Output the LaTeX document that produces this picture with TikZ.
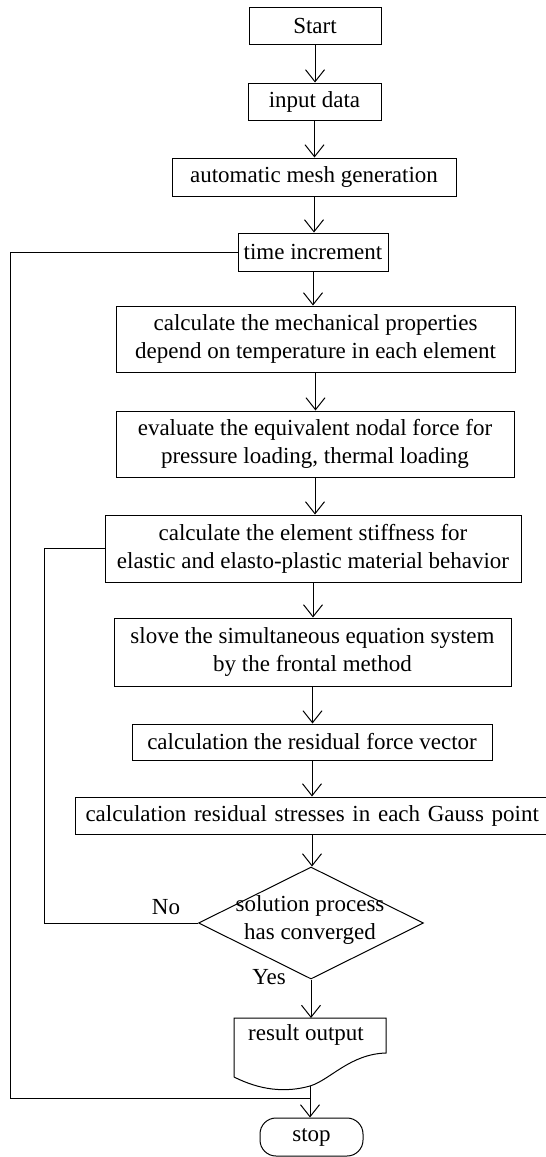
\documentclass[tikz,border=0pt]{standalone}
\usepackage{fontspec}
\setmainfont{Liberation Serif}
\usetikzlibrary{arrows.meta,shapes.geometric}
\begin{document}
\begin{tikzpicture}[x=1pt,y=-1pt,
  txt/.style={inner sep=0pt,align=center,font=\fontsize{23}{28}\selectfont},
  box/.style={txt,draw,line width=1pt},
  arr/.style={line width=1pt,-{Straight Barb[length=12pt,width=19pt,line width=1pt]}},
  ln/.style={line width=1pt}]
\useasboundingbox (0,0) rectangle (546,1157);
% boxes
\node[box,minimum width=132pt,minimum height=37pt] (start) at (315,25.5) {Start};
\node[box,minimum width=133pt,minimum height=37pt] (input) at (314.5,101.5) {input data};
\node[box,minimum width=284pt,minimum height=38pt] (mesh) at (314,177) {automatic mesh generation};
\node[box,minimum width=150pt,minimum height=38pt] (time) at (313,252) {time increment};
\node[box,minimum width=399pt,minimum height=66pt] (mech) at (315.5,339) {calculate the mechanical properties\\depend on temperature in each element};
\node[box,minimum width=398pt,minimum height=66pt] (eval) at (315,444) {evaluate the equivalent nodal force for\\pressure loading, thermal loading};
\node[box,minimum width=416pt,minimum height=67pt] (stiff) at (313,548.5) {calculate the element stiffness for\\elastic and elasto-plastic material behavior};
\node[box,minimum width=397pt,minimum height=68pt] (slove) at (312.5,652) {slove the simultaneous equation system\\by the frontal method};
\node[box,minimum width=360pt,minimum height=36pt] (resid) at (312,742) {calculation the residual force vector};
\node[box,anchor=west,minimum height=37pt,inner xsep=10pt,text width=465pt,align=left] (gauss) at (75,815.5) {calculation residual stresses in each Gauss point};
% decision
\node[draw,line width=1pt,diamond,aspect=2,inner sep=0pt,minimum width=225pt,minimum height=112pt] (dec) at (311,923) {};
\node[txt] (dectext) at (310,920) {solution process\\has converged};
\node[txt] (no) at (166,907) {No};
\node[txt] (yes) at (269,977) {Yes};
% document shape
\coordinate (doctop) at (310,1018);
\coordinate (docbot) at (310,1086);
\draw[ln] (234,1077) -- (234,1018) -- (386,1018) -- (386,1053)
  .. controls (350,1054) and (330,1080) .. (docbot)
  .. controls (285,1093) and (260,1090) .. (234,1077);
\node[txt] (doctext) at (306,1035) {result output};
% stop
\node[box,rounded corners=16pt,minimum width=103pt,minimum height=38pt] (stop) at (311.5,1137) {stop};
% connectors
\draw[arr] (start.south) -- (start.south |- input.north);
\draw[arr] (input.south) -- (input.south |- mesh.north);
\draw[arr] (mesh.south) -- (mesh.south |- time.north);
\draw[arr] (time.south) -- (time.south |- mech.north);
\draw[arr] (mech.south) -- (mech.south |- eval.north);
\draw[arr] (eval.south) -- (eval.south |- stiff.north);
\draw[arr] (stiff.south) -- (stiff.south |- slove.north);
\draw[arr] (slove.south) -- (slove.south |- resid.north);
\draw[arr] (resid.south) -- (resid.south |- gauss.north);
\draw[arr] (resid.south |- gauss.south) -- (resid.south |- dec.north);
\draw[arr] (dec.south) -- (dec.south |- doctop);
\draw[arr] (docbot) -- (docbot |- stop.north);
% loops
\coordinate (join) at (310,1098);
\draw[ln] (time.west) -- (10,252) -- (10,1098) -- (join);
\draw[ln] (stiff.west) -- (44,548.5) -- (44,923) -- (dec.west);
\end{tikzpicture}
\end{document}
